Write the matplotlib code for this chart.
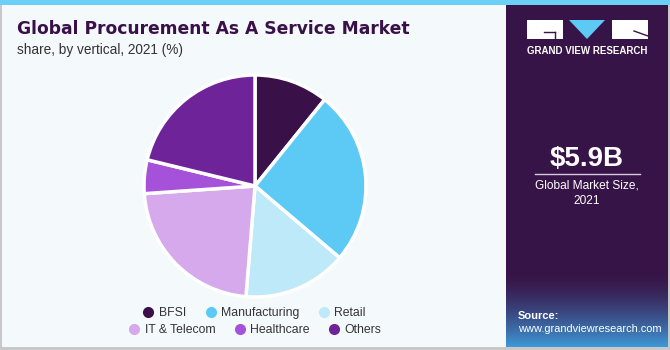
import numpy as np
import matplotlib
matplotlib.use("Agg")
import matplotlib.pyplot as plt
from matplotlib.patches import Rectangle, Polygon
from matplotlib.lines import Line2D

categories = ["BFSI", "Manufacturing", "Retail", "IT & Telecom", "Healthcare", "Others"]
shares = [10.8, 25.4, 15.1, 22.6, 4.9, 21.2]
colors = ["#3a1049", "#5dcaf6", "#bde9f9", "#d5a9ec", "#a651d9", "#6e2399"]
title = "Global Procurement As A Service Market"
subtitle = "share, by vertical, 2021 (%)"
market_size = "$5.9B"
market_label = "Global Market Size,\n2021"

W, H = 670, 350
fig = plt.figure(figsize=(6.7, 3.5), dpi=100)
fig.patch.set_facecolor("#f4f9fc")

def px(x, y, w, h):
    return [x / W, 1 - (y + h) / H, w / W, h / H]

bg = fig.add_axes([0, 0, 1, 1])
bg.set_xlim(0, W)
bg.set_ylim(H, 0)
bg.axis("off")
bg.add_patch(Rectangle((0, 0), W, H, facecolor="#f4f9fc", edgecolor="none"))
# frame lines
bg.add_patch(Rectangle((0, 0), 1.5, H, facecolor="#c8c8c8", edgecolor="none"))
bg.add_patch(Rectangle((0, 347), W, 3, facecolor="#c8c8c8", edgecolor="none"))
bg.add_patch(Rectangle((668, 0), 2, H, facecolor="#c8c8c8", edgecolor="none"))
# right panel
bg.add_patch(Rectangle((506, 0), 162, 347, facecolor="#371447", edgecolor="none"))
grad = np.linspace(0, 1, 100)[:, None]
c0 = np.array([0x37, 0x14, 0x47]) / 255
c1 = np.array([0x3e, 0x98, 0xd8]) / 255
img = c0[None, None, :] * (1 - grad[..., None] ** 1.5) + c1[None, None, :] * (grad[..., None] ** 1.5)
bg.imshow(img, extent=(506, 668, 347, 272), aspect="auto", zorder=1)
# top band
bg.add_patch(Rectangle((0, 0), W, 5, facecolor="#6ccff6", edgecolor="none", zorder=3))

# logo
bg.add_patch(Rectangle((527, 20), 36, 19, facecolor="white", edgecolor="none", zorder=3))
bg.add_patch(Polygon([(569, 20), (605, 20), (587, 39)], closed=True, facecolor="#5dcaf6", edgecolor="none", zorder=3))
bg.add_patch(Rectangle((612, 20), 36, 19, facecolor="white", edgecolor="none", zorder=3))
bg.plot([544, 555], [32, 32], color="#371447", lw=1, zorder=4)
bg.plot([555, 555], [32, 39], color="#371447", lw=1, zorder=4)
bg.plot([634, 648], [31, 36], color="#371447", lw=1, zorder=4)
bg.text(587, 51, "GRAND VIEW RESEARCH", color="white", fontsize=7, fontweight="bold",
        ha="center", va="center", family="Liberation Sans", zorder=4)

bg.text(587, 159, market_size, color="white", fontsize=20, fontweight="bold",
        ha="center", va="center", family="Liberation Sans", zorder=4)
bg.plot([535, 640], [173.5, 173.5], color="#d8c8e0", lw=1, zorder=4)
bg.text(587, 193, market_label, color="white", fontsize=8.6, ha="center", va="center",
        family="Liberation Sans", linespacing=1.35, zorder=4)
bg.text(518, 316, "Source:", color="white", fontsize=8, fontweight="bold",
        ha="left", va="center", family="Liberation Sans", zorder=4)
bg.text(518, 329, "www.grandviewresearch.com", color="white", fontsize=7.9,
        ha="left", va="center", family="Liberation Sans", zorder=4)

# title
bg.text(17, 29, title, color="#3a1049", fontsize=12.3, fontweight="heavy",
        ha="left", va="center", family="DejaVu Sans", zorder=4)
bg.text(17, 50, subtitle, color="#333333", fontsize=9.8, ha="left", va="center",
        family="Liberation Sans", zorder=4)

# pie
cx, cy, r = 255, 186, 111
ax = fig.add_axes(px(cx - r, cy - r, 2 * r, 2 * r))
ax.pie(shares, colors=colors, startangle=90, counterclock=False, radius=1,
       wedgeprops=dict(edgecolor="white", linewidth=2.5))
ax.set_xlim(-1, 1)
ax.set_ylim(-1, 1)
ax.set_aspect("equal")
ax.axis("off")

def make_handles(idx):
    return [Line2D([0], [0], marker="o", color="none", markerfacecolor=colors[i],
                   markeredgecolor="none", markersize=8, label=categories[i]) for i in idx]

leg_kw = dict(ncol=3, frameon=False, handletextpad=0.35, columnspacing=1.5,
              handlelength=1.0, prop={"family": "Liberation Sans", "size": 8.8},
              labelcolor="#333333")
l1 = fig.legend(handles=make_handles([0, 1, 2]), loc="center",
                bbox_to_anchor=(254 / W, 1 - 313 / H), **leg_kw)
l2 = fig.legend(handles=make_handles([3, 4, 5]), loc="center",
                bbox_to_anchor=(255 / W, 1 - 330 / H), **leg_kw)

fig.savefig("out.png", dpi=100, facecolor=fig.get_facecolor())
